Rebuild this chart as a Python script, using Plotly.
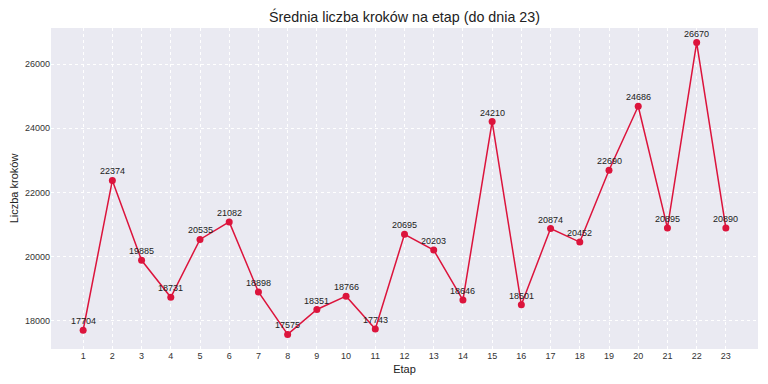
import plotly.graph_objects as go

etapy = list(range(1, 24))
kroki = [17704, 22374, 19885, 18731, 20535, 21082, 18898, 17575, 18351, 18766,
         17743, 20695, 20203, 18646, 24210, 18501, 20874, 20452, 22690, 24686,
         20895, 26670, 20890]
y_ticks = [18000, 20000, 22000, 24000, 26000]

fig = go.Figure()
fig.add_trace(go.Scatter(
    x=etapy, y=kroki, mode="lines+markers",
    line=dict(color="#DC143C", width=1.5),
    marker=dict(color="#DC143C", size=7),
    hoverinfo="x+y", showlegend=False,
))
for e, v in zip(etapy, kroki):
    fig.add_annotation(x=e, y=v, text=str(v), showarrow=False, xanchor="center",
                       yanchor="bottom", yshift=3, borderpad=0,
                       font=dict(family="Liberation Sans, Arial", size=9, color="#222222"))

# page body has an 8px margin: compensate
fig.update_layout(
    width=760, height=376,
    margin=dict(l=43, r=10, t=20, b=35, autoexpand=False),
    paper_bgcolor="white", plot_bgcolor="#EAEAF2",
    title=dict(text="Średnia liczba kroków na etap (do dnia 23)", xref="paper", x=0.5, xanchor="center",
               y=0.976, yanchor="middle",
               font=dict(family="Liberation Sans, Arial", size=14.3, color="#222222"),
               automargin=False),
    font=dict(family="Liberation Sans, Arial", color="#222222"),
)
fig.update_xaxes(
    range=[-0.1, 24.1], tickmode="array", tickvals=etapy, ticktext=[str(e) for e in etapy],
    showgrid=True, gridcolor="white", griddash="dot", gridwidth=1, zeroline=False,
    tickfont=dict(size=9, color="#333333"), title=dict(text="Etap", font=dict(size=11), standoff=5),
    ticks="", showline=False, automargin=False,
)
fig.update_yaxes(
    range=[17120, 27125], tickmode="array", tickvals=y_ticks, ticktext=[str(v) for v in y_ticks],
    showgrid=True, gridcolor="white", griddash="dot", gridwidth=1, zeroline=False,
    tickfont=dict(size=9, color="#333333"), title=dict(text="Liczba kroków", font=dict(size=11), standoff=6),
    ticks="", showline=False, automargin=False,
)

fig.write_html("out.html")
